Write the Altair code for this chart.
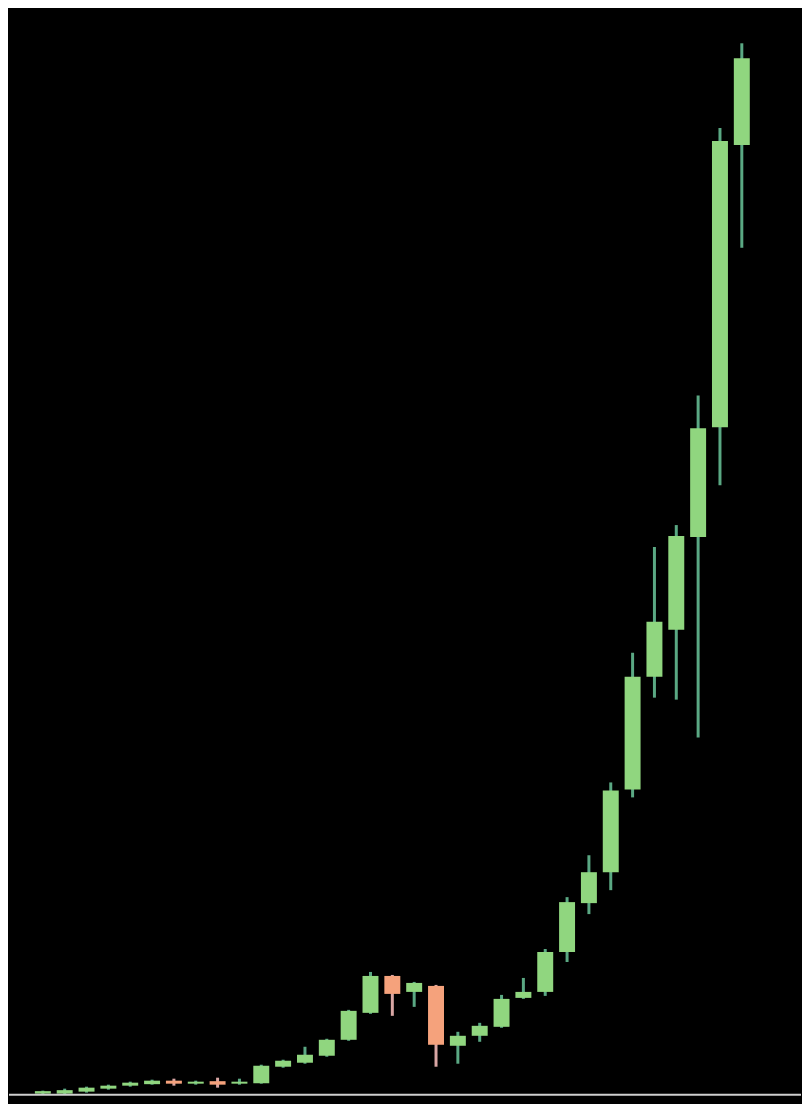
import altair as alt
import pandas as pd

# candle index (period) and OHLC values (arbitrary price units)
period = list(range(33))
open_ = [1, 1, 3, 6, 9, 10.5, 14, 11, 13.5, 11, 11.5, 28, 32, 39, 55, 82, 119, 103, 109, 49, 59, 68, 97, 103, 143, 192, 223, 306, 419, 466, 559, 669, 952]
close = [3.5, 4.5, 7, 9, 12, 14, 11, 13, 10, 13, 29, 34, 40, 55, 84, 119, 101, 112, 50, 59, 69, 96, 103, 143, 193, 223, 305, 419, 474, 560, 668, 956, 1039]
high = [4, 6, 8, 10, 13, 15, 16, 14, 17, 16, 30, 35, 48, 56, 85, 123, 120, 113, 110, 63, 72, 100, 117, 146, 198, 240, 313, 443, 549, 571, 701, 969, 1054]
low = [0.5, 0.5, 2, 5, 8, 10, 9, 10, 7, 10, 11, 27, 31, 38, 54, 81, 79, 88, 28, 31, 53, 67, 96, 99, 133, 181, 205, 298, 398, 396, 358, 611, 849]

df = pd.DataFrame({"period": period, "open": open_, "close": close, "high": high, "low": low})
df["dir"] = ["up" if c >= o else "down" for o, c in zip(open_, close)]

xs = alt.Scale(domain=[-1.55, 34.71], nice=False, zero=False, padding=0)
ys = alt.Scale(domain=[-8, 1088], nice=False, zero=False, padding=0)

body_colors = alt.Scale(domain=["up", "down"], range=["#90d67f", "#f5a27c"])
wick_colors = alt.Scale(domain=["up", "down"], range=["#5aa883", "#d9a6a4"])

base = alt.Chart(df)

wicks = base.mark_rule(strokeWidth=3).encode(
    x=alt.X("period:Q", scale=xs, axis=None),
    y=alt.Y("low:Q", scale=ys, axis=None),
    y2="high:Q",
    color=alt.Color("dir:N", scale=wick_colors, legend=None),
)

bodies = base.mark_bar(size=16).encode(
    x=alt.X("period:Q", scale=xs, axis=None),
    y=alt.Y("open:Q", scale=ys, axis=None),
    y2="close:Q",
    color=alt.Color("dir:N", scale=body_colors, legend=None),
)

baseline = alt.Chart(pd.DataFrame({"v": [0]})).mark_rule(color="#cfcfcf", strokeWidth=2).encode(
    y=alt.Y("v:Q", scale=ys, axis=None)
)

chart = (
    alt.layer(wicks, bodies, baseline)
    .resolve_scale(color="independent")
    .properties(width=794, height=1096, background="#000000", padding=0)
    .configure_view(strokeOpacity=0)
)

chart.save("out.html", embed_options={"renderer": "svg", "actions": False})
